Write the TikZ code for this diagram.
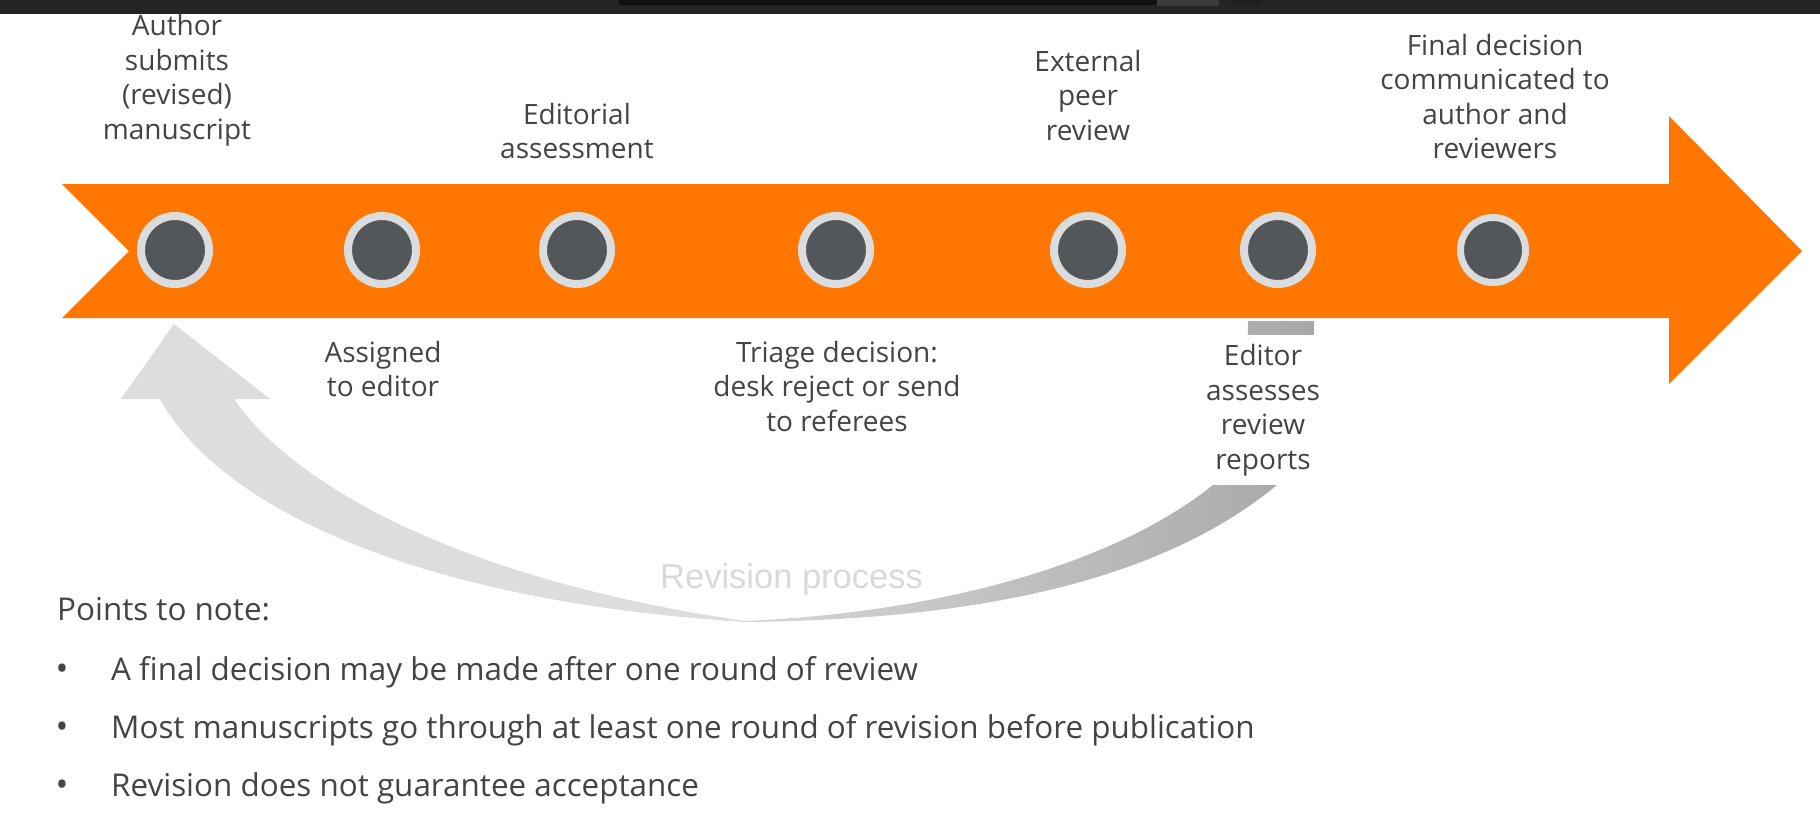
\documentclass[tikz,border=0pt]{standalone}
\usepackage{fontspec}
\newfontfamily\slidefont{Open Sans}
\newfontfamily\captionfont{Liberation Sans}
\definecolor{barorange}{RGB}{255,118,0}
\definecolor{dotfill}{RGB}{84,87,90}
\definecolor{dotring}{RGB}{218,220,222}
\definecolor{labelgrey}{RGB}{68,68,68}
\definecolor{loopgrey}{RGB}{221,221,221}
\definecolor{loopdarkL}{RGB}{214,214,214}
\definecolor{loopdarkR}{RGB}{168,168,168}
\definecolor{revgrey}{RGB}{217,217,217}
\definecolor{topbar}{RGB}{36,36,36}
\definecolor{topslot}{RGB}{17,17,17}
\definecolor{topthumb}{RGB}{58,58,58}
\definecolor{topknob}{RGB}{30,30,30}
\begin{document}
\begin{tikzpicture}[x=1pt,y=-1pt,
  dot/.style={circle, fill=dotfill, draw=dotring, line width=8pt,
    minimum size=68pt, inner sep=0pt},
  lastdot/.style={dot, line width=7pt, minimum size=65pt},
  steplabel/.style={font=\slidefont\fontsize{28}{34.5}\selectfont,
    text=labelgrey, align=center, anchor=north, inner sep=0pt},
  notetext/.style={font=\slidefont\fontsize{31.4}{38}\selectfont,
    text=labelgrey, anchor=base west, inner sep=0pt},
  bulletmark/.style={font=\slidefont\fontsize{34}{38}\selectfont,
    text=labelgrey, anchor=base, inner sep=0pt}]

\useasboundingbox (0,0) rectangle (1820,814);
\fill[white] (0,0) rectangle (1820,814);

% player strip along the top edge
\fill[topbar] (0,0) rectangle (1820,14);
\fill[topslot] (619,0) rectangle (1157,5);
\fill[topthumb] (1157,0) rectangle (1219,5.7);
\begin{scope}
  \clip (0,0) rectangle (1820,14);
  \fill[topknob] (1247.5,-19) circle[radius=24.7];
\end{scope}

% orange timeline arrow
\fill[barorange] (62,184) -- (1669,184) -- (1669,116) -- (1802,251)
  -- (1669,384) -- (1669,318) -- (62,318) -- (129,251) -- cycle;

% milestones
\node[dot] (c1) at (175,250) {};
\node[dot] (c2) at (382,250) {};
\node[dot] (c3) at (577,250) {};
\node[dot] (c4) at (836,250) {};
\node[dot] (c5) at (1088,250) {};
\node[dot] (c6) at (1278,250) {};
\node[lastdot] (c7) at (1493,250) {};

% revision loop: light front half with the head
\fill[loopgrey] (745,622) .. controls (400,600) and (215,500) .. (160,399)
  -- (121,399) -- (174,324) -- (270,399) -- (234,399)
  .. controls (282,470) and (430,575) .. (745,621) -- cycle;
% revision loop: shaded back half rising to the bar
\shade[left color=loopdarkL, right color=loopdarkR]
  (745,622) .. controls (950,620) and (1150,590) .. (1277,485)
  .. controls (1300,462) and (1314,390) .. (1314,321)
  -- (1248,321) .. controls (1248,390) and (1238,455) .. (1213,485)
  .. controls (1120,560) and (950,612) .. (745,621) -- cycle;

\node[font=\captionfont\fontsize{34.5}{40}\selectfont, text=revgrey,
  anchor=base west, inner sep=0pt] (revlabel) at (660,588) {Revision process};

% step labels
\node[steplabel] (l1) at (177,14.5) {Author\\submits\\(revised)\\manuscript};
\node[steplabel] (l3) at (577,102.7) {Editorial\\assessment};
\node[steplabel] (l5) at (1088,49.7) {External\\peer\\review};
\node[steplabel] (l7) at (1495,34) {Final decision\\communicated to\\author and\\reviewers};
\node[steplabel] (l2) at (383,341) {Assigned\\to editor};
\node[steplabel] (l4) at (837,341) {Triage decision:\\desk reject or send\\to referees};
\node[steplabel, fill=white, minimum width=120pt, minimum height=150pt]
  (l6) at (1263,335) {Editor\\assesses\\review\\reports};

% notes
\node[notetext] (note) at (57,620) {Points to note:};
\node[bulletmark] (b1) at (62,680) {•};
\node[notetext] (t1) at (111,680) {A final decision may be made after one round of review};
\node[bulletmark] (b2) at (62,738) {•};
\node[notetext] (t2) at (111,738) {Most manuscripts go through at least one round of revision before publication};
\node[bulletmark] (b3) at (62,796) {•};
\node[notetext] (t3) at (111,796) {Revision does not guarantee acceptance};
\end{tikzpicture}
\end{document}
